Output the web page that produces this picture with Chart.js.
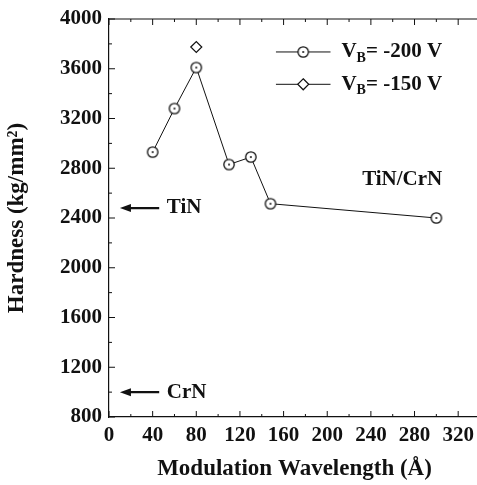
<!DOCTYPE html>
<html>
<head>
<meta charset="utf-8">
<script src="https://cdn.jsdelivr.net/npm/chart.js@4.4.0/dist/chart.umd.min.js"></script>
<style>
  html, body { margin:0; padding:0; background:#fff; overflow:hidden; }
  #wrap { width:480px; height:485px; }
</style>
</head>
<body>
<div id="wrap"><canvas id="hardChart" width="480" height="485"></canvas></div>
<script>
/* data */
const wavelength200 = [40, 60, 80, 110, 130, 148, 300];
const hardness200 = [2930, 3280, 3610, 2830, 2890, 2515, 2400];
const wavelength150 = [80];
const hardness150 = [3775];
const refLabels = ["TiN", "CrN"];
const refHardness = [2480, 1000];
const seriesNames = ["-200 V", "-150 V"];

const INK = "#111";
const FONT = "'Liberation Serif', 'Times New Roman', serif";

// circle with a dot in the middle, used as point style
function dotCircle() {
  const c = document.createElement("canvas");
  c.width = 14; c.height = 14;
  const g = c.getContext("2d");
  g.strokeStyle = INK; g.lineWidth = 1.3; g.fillStyle = "#fff";
  g.beginPath(); g.arc(7, 7, 5.2, 0, Math.PI*2); g.fill(); g.stroke();
  g.fillStyle = INK;
  g.beginPath(); g.arc(7, 7, 1, 0, Math.PI*2); g.fill();
  return c;
}
const circleImg = dotCircle();

/** inward ticks, top frame, legend and the arrow notes */
const decor = {
  id: "decor",
  afterDraw(chart) {
    const { ctx, chartArea: a, scales: { x, y } } = chart;
    ctx.save();
    ctx.strokeStyle = INK;
    ctx.lineWidth = 1.2;
    // top frame
    ctx.beginPath(); ctx.moveTo(a.left, a.top); ctx.lineTo(a.right, a.top); ctx.stroke();
    ctx.lineWidth = 1;
    x.ticks.forEach(t => {
      const px = x.getPixelForValue(t.value);
      const len = t.value % 40 === 0 ? 6 : 3;
      ctx.beginPath();
      ctx.moveTo(px, a.bottom); ctx.lineTo(px, a.bottom - len);
      ctx.moveTo(px, a.top); ctx.lineTo(px, a.top + len);
      ctx.stroke();
    });
    y.ticks.forEach(t => {
      const py = y.getPixelForValue(t.value);
      const len = t.value % 400 === 0 ? 6 : 3;
      ctx.beginPath();
      ctx.moveTo(a.left, py); ctx.lineTo(a.left + len, py);
      ctx.stroke();
    });

    // arrows for the bulk values
    ctx.fillStyle = INK;
    ctx.font = "bold 21px " + FONT;
    ctx.textBaseline = "middle";
    refHardness.forEach((h, i) => {
      const py = y.getPixelForValue(h);
      const x0 = x.getPixelForValue(10), x1 = x.getPixelForValue(46);
      ctx.lineWidth = 2.2;
      ctx.beginPath(); ctx.moveTo(x0 + 8, py); ctx.lineTo(x1, py); ctx.stroke();
      ctx.beginPath();
      ctx.moveTo(x0, py); ctx.lineTo(x0 + 11, py - 4); ctx.lineTo(x0 + 11, py + 4);
      ctx.closePath(); ctx.fill();
      ctx.textAlign = "left";
      ctx.fillText(refLabels[i], x.getPixelForValue(53), py);
    });
    ctx.textAlign = "left";
    ctx.fillText("TiN/CrN", x.getPixelForValue(232), y.getPixelForValue(2712));

    // legend
    const rows = [y.getPixelForValue(3735), y.getPixelForValue(3475)];
    const lx0 = x.getPixelForValue(153), lx1 = x.getPixelForValue(203);
    const lm = (lx0 + lx1) / 2;
    rows.forEach((ry, i) => {
      ctx.lineWidth = 1;
      ctx.beginPath(); ctx.moveTo(lx0, ry); ctx.lineTo(lx1, ry); ctx.stroke();
      if (i === 0) {
        ctx.drawImage(circleImg, lm - 7, ry - 7);
      } else {
        ctx.fillStyle = "#fff";
        ctx.lineWidth = 1.2;
        ctx.beginPath();
        ctx.moveTo(lm, ry - 5.5); ctx.lineTo(lm + 5.5, ry); ctx.lineTo(lm, ry + 5.5); ctx.lineTo(lm - 5.5, ry);
        ctx.closePath(); ctx.fill(); ctx.stroke();
        ctx.fillStyle = INK;
      }
      let tx = x.getPixelForValue(213);
      ctx.font = "bold 21px " + FONT;
      ctx.fillText("V", tx, ry);
      tx += ctx.measureText("V").width;
      ctx.font = "bold 14px " + FONT;
      ctx.fillText("B", tx, ry + 6);
      tx += ctx.measureText("B").width;
      ctx.font = "bold 21px " + FONT;
      ctx.fillText("= " + seriesNames[i], tx, ry);
    });
    ctx.restore();
  }
};

const ctx = document.getElementById("hardChart").getContext("2d");
new Chart(ctx, {
  type: "scatter",
  data: {
    datasets: [{
      label: "VB= -200 V",
      data: wavelength200.map((v, i) => ({ x: v, y: hardness200[i] })),
      showLine: true,
      borderColor: INK,
      borderWidth: 1,
      pointStyle: circleImg,
      pointRadius: 5
    }, {
      label: "VB= -150 V",
      data: wavelength150.map((v, i) => ({ x: v, y: hardness150[i] })),
      showLine: false,
      borderColor: INK,
      backgroundColor: "#fff",
      borderWidth: 1.2,
      pointStyle: "rectRot",
      pointRadius: 5.5
    }]
  },
  options: {
    responsive: false,
    animation: false,
    layout: { autoPadding: false, padding: { top: 19, right: 0, left: 0, bottom: 0 } },
    plugins: { legend: { display: false }, tooltip: { enabled: false } },
    scales: {
      x: {
        type: "linear",
        min: 0, max: 340,
        grid: { display: false, drawTicks: false },
        border: { display: true, color: INK, width: 1.2 },
        ticks: {
          stepSize: 20, padding: 6, color: INK, maxRotation: 0, autoSkip: false,
          font: { family: FONT, size: 21, weight: "bold" },
          callback: v => (v % 40 === 0 && v <= 320) ? v : ""
        },
        title: {
          display: true, text: "Modulation Wavelength (Å)", color: INK,
          font: { family: FONT, size: 23, weight: "bold" },
          padding: { top: 0, bottom: 2 }
        },
        afterFit: s => { s.height = 68; s.paddingLeft = 0; s.paddingRight = 0; }
      },
      y: {
        min: 800, max: 4000,
        grid: { display: false, drawTicks: false },
        border: { display: true, color: INK, width: 1.2 },
        ticks: {
          stepSize: 200, padding: 7, color: INK, autoSkip: false,
          font: { family: FONT, size: 21, weight: "bold" },
          callback: v => v % 400 === 0 ? v : ""
        },
        title: {
          display: true, text: "Hardness (kg/mm²)", color: INK,
          font: { family: FONT, size: 23, weight: "bold" },
          padding: { top: 3, bottom: 0 }
        },
        afterFit: s => { s.width = 109; s.paddingTop = 0; s.paddingBottom = 0; }
      }
    }
  },
  plugins: [decor]
});
</script>
</body>
</html>
